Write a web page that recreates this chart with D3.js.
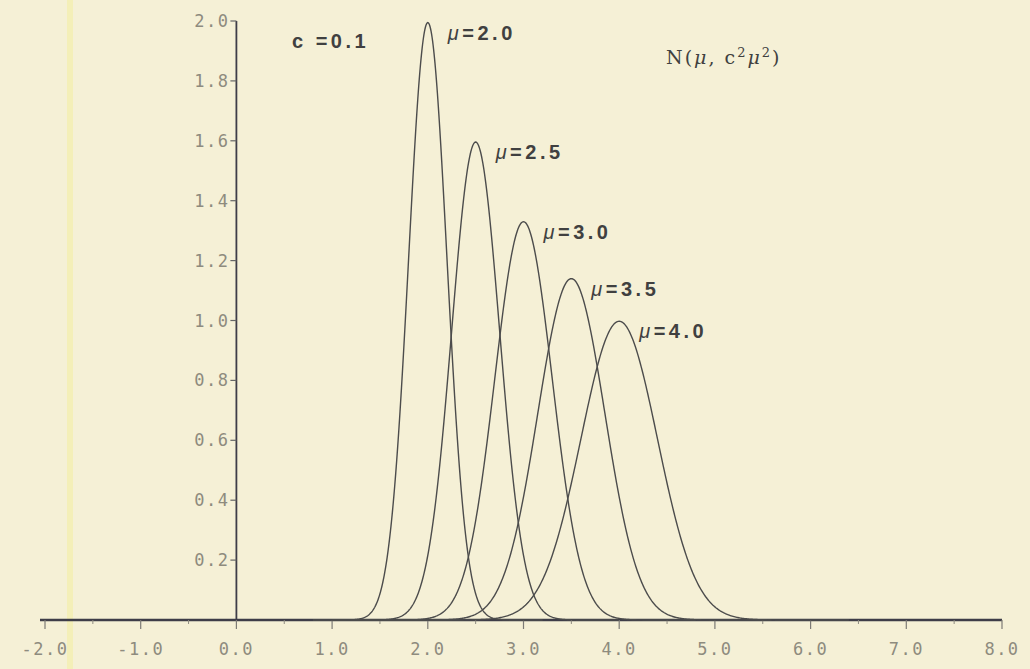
<!DOCTYPE html>
<html>
<head>
<meta charset="utf-8">
<script src="https://cdn.jsdelivr.net/npm/d3@7"></script>
<style>
  body { margin: 0; background: #f5f0d6; }
  svg { display: block; }
  .tick-label { font-family: "DejaVu Sans Mono", monospace; font-size: 17px; letter-spacing: 1.5px; fill: #8e8b7e; }
  .note { font-family: "Liberation Sans", Arial, sans-serif; font-size: 20px; letter-spacing: 3.5px; fill: #404040; font-weight: bold; }
  .formula { font-family: "DejaVu Serif", serif; font-size: 19px; letter-spacing: 2px; fill: #404040; }
</style>
</head>
<body>
<div id="chart"></div>
<script>
// values
var cValue = 0.1;
var muValues = [2.0, 2.5, 3.0, 3.5, 4.0];
var muLabels = ["2.0", "2.5", "3.0", "3.5", "4.0"];
var xTickValues = [-2, -1, 0, 1, 2, 3, 4, 5, 6, 7, 8];
var xTickLabels = ["-2.0", "-1.0", "0.0", "1.0", "2.0", "3.0", "4.0", "5.0", "6.0", "7.0", "8.0"];
var xMinorTicks = [-1.5, -0.5, 0.5, 1.5, 2.5, 3.5, 4.5, 5.5, 6.5, 7.5];
var yTickValues = [0.2, 0.4, 0.6, 0.8, 1.0, 1.2, 1.4, 1.6, 1.8, 2.0];
var yTickLabels = ["0.2", "0.4", "0.6", "0.8", "1.0", "1.2", "1.4", "1.6", "1.8", "2.0"];

var width = 1030, height = 669;

var svg = d3.select('#chart').append('svg')
    .attr('width', width)
    .attr('height', height);

svg.append('rect')
    .attr('width', width).attr('height', height)
    .attr('fill', '#f5f0d6');

// pale scan stripe on the left of the paper
svg.append('rect')
    .attr('x', 67).attr('y', 0)
    .attr('width', 6).attr('height', height)
    .attr('fill', '#f4efb0').attr('opacity', 0.8);

var x = d3.scaleLinear().domain([-2, 8]).range([45, 1002]);
var y = d3.scaleLinear().domain([0, 2]).range([620, 21]);

var axisColor = '#3e3d48';

// x axis
svg.append('line')
    .attr('x1', x(-2) - 5).attr('x2', x(8))
    .attr('y1', y(0)).attr('y2', y(0))
    .attr('stroke', axisColor).attr('stroke-width', 2.5);

svg.selectAll('.xmaj').data(xTickValues).enter().append('line')
    .attr('class', 'xmaj')
    .attr('x1', function(d) { return x(d); }).attr('x2', function(d) { return x(d); })
    .attr('y1', y(0)).attr('y2', y(0) + 9)
    .attr('stroke', '#7d7b76').attr('stroke-width', 1.2);

svg.selectAll('.xmin').data(xMinorTicks).enter().append('line')
    .attr('class', 'xmin')
    .attr('x1', function(d) { return x(d); }).attr('x2', function(d) { return x(d); })
    .attr('y1', y(0)).attr('y2', y(0) + 4)
    .attr('stroke', '#8e8b80').attr('stroke-width', 1);

svg.selectAll('.xlab').data(xTickValues).enter().append('text')
    .attr('class', 'tick-label')
    .attr('x', function(d) { return x(d); })
    .attr('y', y(0) + 35)
    .attr('text-anchor', 'middle')
    .text(function(d, i) { return xTickLabels[i]; });

// y axis at x = 0
svg.append('line')
    .attr('x1', x(0)).attr('x2', x(0))
    .attr('y1', y(0)).attr('y2', y(2))
    .attr('stroke', axisColor).attr('stroke-width', 1.8);

svg.selectAll('.ytick').data(yTickValues).enter().append('line')
    .attr('class', 'ytick')
    .attr('x1', x(0) - 6).attr('x2', x(0))
    .attr('y1', function(d) { return y(d); }).attr('y2', function(d) { return y(d); })
    .attr('stroke', '#666').attr('stroke-width', 1.2);

svg.selectAll('.ylab').data(yTickValues).enter().append('text')
    .attr('class', 'tick-label')
    .attr('x', x(0) - 7)
    .attr('y', function(d) { return y(d) + 6; })
    .attr('text-anchor', 'end')
    .text(function(d, i) { return yTickLabels[i]; });

// density curves N(mu, c^2 mu^2)
function pdf(v, mu, s) {
    return Math.exp(-0.5 * Math.pow((v - mu) / s, 2)) / (s * Math.sqrt(2 * Math.PI));
}

var line = d3.line()
    .x(function(d) { return x(d[0]); })
    .y(function(d) { return y(d[1]); });

muValues.forEach(function(mu, i) {
    var s = cValue * mu;
    var pts = d3.range(mu - 6 * s, mu + 6 * s, s / 40).map(function(v) { return [v, pdf(v, mu, s)]; });
    svg.append('path')
        .attr('d', line(pts))
        .attr('fill', 'none')
        .attr('stroke', '#4c4c4c')
        .attr('stroke-width', 1.4);

    var peak = pdf(mu, mu, s);
    var t = svg.append('text')
        .attr('class', 'note')
        .attr('x', x(mu) + 20)
        .attr('y', y(peak) + 17);
    t.append('tspan').style('font-style', 'italic').style('font-weight', 'normal').text('\u03bc');
    t.append('tspan').text('=' + muLabels[i]);
});

svg.append('text')
    .attr('class', 'note')
    .attr('x', 292).attr('y', 48)
    .text('c =' + cValue);

var n = svg.append('text')
    .attr('class', 'formula')
    .attr('x', 666).attr('y', 64);
n.append('tspan').text('N(');
n.append('tspan').style('font-style', 'italic').text('\u03bc');
n.append('tspan').text(', c');
n.append('tspan').attr('dy', -7).style('font-size', '13px').text('2');
n.append('tspan').attr('dy', 7).style('font-style', 'italic').text('\u03bc');
n.append('tspan').attr('dy', -7).style('font-size', '13px').text('2');
n.append('tspan').attr('dy', 7).text(')');
</script>
</body>
</html>
